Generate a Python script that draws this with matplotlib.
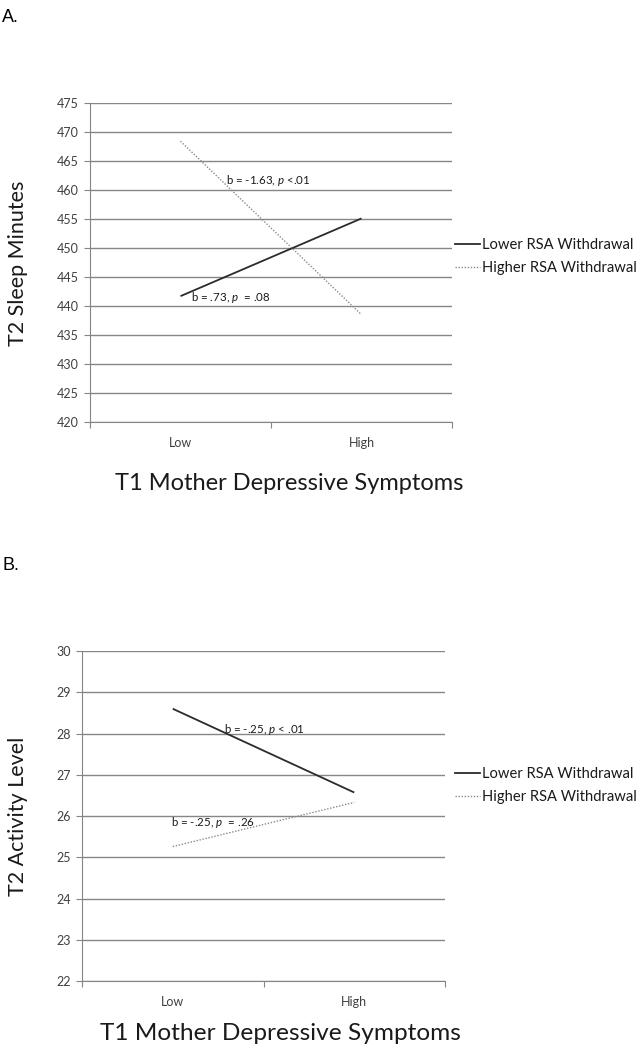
import matplotlib
matplotlib.use("Agg")
import matplotlib.pyplot as plt
from matplotlib.lines import Line2D

plt.rcParams['font.family'] = ['Lato', 'DejaVu Sans']
plt.rcParams['mathtext.fontset'] = 'custom'
plt.rcParams['mathtext.rm'] = 'Lato'
plt.rcParams['mathtext.it'] = 'Lato:italic'

categories = ["Low", "High"]
series_names = ["Lower RSA Withdrawal", "Higher RSA Withdrawal"]

# Panel A: T2 Sleep Minutes
sleep_lower = [441.7, 455.1]
sleep_higher = [468.4, 438.5]
sleep_ticks = [420, 425, 430, 435, 440, 445, 450, 455, 460, 465, 470, 475]
sleep_notes = ["b = -1.63, $\\it{p}$ <.01", "b = .73, $\\it{p}$  = .08"]
sleep_note_pos = [(0.25, 461.7), (0.06, 441.5)]

# Panel B: T2 Activity Level
act_lower = [28.6, 26.57]
act_higher = [25.26, 26.33]
act_ticks = [22, 23, 24, 25, 26, 27, 28, 29, 30]
act_notes = ["b = -.25, $\\it{p}$ < .01", "b = -.25, $\\it{p}$  = .26"]
act_note_pos = [(0.28, 28.1), (-0.01, 25.85)]

W, H = 642, 1048
fig = plt.figure(figsize=(W / 100, H / 100), dpi=100)

GRID = '#868686'
TXT = '#1a1a1a'


def fx(px):
    return px / W


def fy(py):
    return 1 - py / H


def panel(rect, lower, higher, ticks, ylabel, notes, note_pos, letter, letter_y,
          legend_y, ylab_y, xlab_xy, xlab_size):
    l, t, r, b = rect
    ax = fig.add_axes([fx(l), fy(b), fx(r) - fx(l), fy(t) - fy(b)])
    x = list(range(len(categories)))
    ax.plot(x, lower, color='#2b2b2b', lw=1.3, solid_capstyle='butt')
    ax.plot(x, higher, color='#8a8a8a', lw=1.0, ls=(0, (1, 1.2)))
    ax.set_xlim(-0.5, len(categories) - 0.5)
    ax.set_ylim(ticks[0], ticks[-1])
    ax.set_yticks(ticks)
    ax.set_yticklabels([str(v) for v in ticks], fontsize=9, color='#404040')
    ax.set_xticks([-0.5, 0.5, 1.5], minor=False)
    ax.set_xticklabels([])
    ax.set_xticks(x, minor=True)
    ax.set_xticklabels(categories, minor=True, fontsize=9, color='#404040')
    ax.tick_params(axis='x', which='major', length=4, color=GRID, direction='out')
    ax.tick_params(axis='x', which='minor', length=0, pad=11)
    ax.tick_params(axis='y', length=4, color=GRID, pad=4)
    ax.grid(axis='y', color=GRID, lw=1.0)
    ax.set_axisbelow(True)
    for s in ['top', 'right']:
        ax.spines[s].set_visible(False)
    ax.spines['left'].set_color(GRID)
    ax.spines['bottom'].set_color(GRID)
    fig.text(fx(18), fy(ylab_y), ylabel, fontsize=15.5, color=TXT, rotation=90,
             ha='center', va='center')
    fig.text(fx(xlab_xy[0]), fy(xlab_xy[1]), "T1 Mother Depressive Symptoms",
             fontsize=xlab_size, color=TXT, ha='center', va='center')
    for txt, (nx, ny) in zip(notes, note_pos):
        ax.text(nx, ny, txt, fontsize=8.3, color=TXT, va='center', ha='left')
    handles = [Line2D([], [], color='#2b2b2b', lw=1.3),
               Line2D([], [], color='#8a8a8a', lw=1.0, ls=(0, (1, 1.2)))]
    fig.legend(handles, series_names, loc='center left',
               bbox_to_anchor=(fx(455), fy(legend_y)), frameon=False,
               fontsize=10.6, handlelength=1.7, handletextpad=0.15,
               labelspacing=0.6, borderaxespad=0, borderpad=0,
               labelcolor=TXT)
    fig.text(fx(2), fy(letter_y), letter, fontsize=13, family='Liberation Sans',
             va='center', ha='left')
    return ax


panel((90, 103, 452, 422), sleep_lower, sleep_higher, sleep_ticks,
      "T2 Sleep Minutes", sleep_notes, sleep_note_pos, "A.", 17, 256.5,
      263, (289, 483), 17)
panel((82, 651, 445, 981), act_lower, act_higher, act_ticks,
      "T2 Activity Level", act_notes, act_note_pos, "B.", 566, 785.5,
      816, (280, 1033), 17.6)

fig.savefig("out.png", dpi=100, facecolor='white')
